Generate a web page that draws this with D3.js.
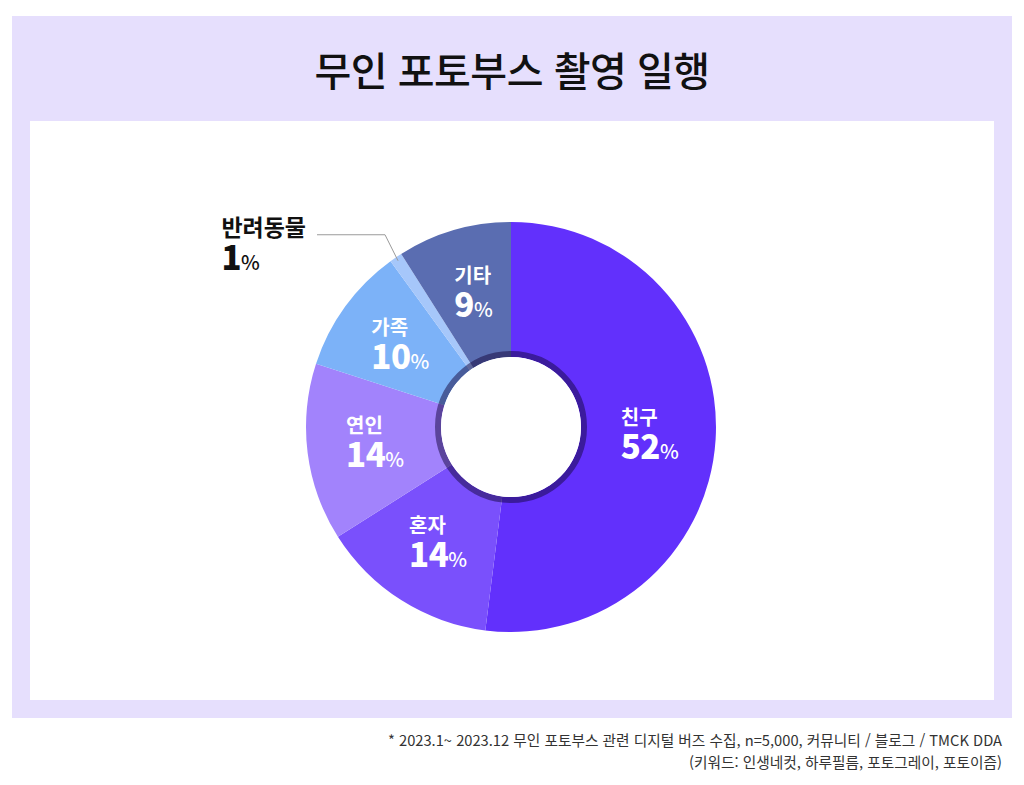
<!DOCTYPE html>
<html lang="ko">
<head>
<meta charset="utf-8">
<script src="https://cdn.jsdelivr.net/npm/d3@7"></script>
<style>
  body { margin: 0; background: #fff; }
  text { font-family: "Noto Sans CJK KR", "Noto Sans", sans-serif; }
</style>
</head>
<body>
<svg id="chart"></svg>
<script>
// data
const categories = ["친구", "혼자", "연인", "가족", "반려동물", "기타"];
const shares = [52, 14, 14, 10, 1, 9];
const sliceColors = ["#6230fc", "#7a50fc", "#a283fc", "#7cb2f8", "#a6c7fa", "#5a6db1"];
const titleText = "무인 포토부스 촬영 일행";
const noteLines = [
    "* 2023.1~ 2023.12 무인 포토부스 관련 디지털 버즈 수집, n=5,000, 커뮤니티 / 블로그 / TMCK DDA",
    "(키워드: 인생네컷, 하루필름, 포토그레이, 포토이즘)"
];

const width = 1024;
const height = 785;

const svg = d3.select('#chart')
    .attr('width', width)
    .attr('height', height);

// background panels
svg.append('rect')
    .attr('x', 12).attr('y', 16)
    .attr('width', 1000).attr('height', 702)
    .attr('fill', '#e6dffd');

svg.append('rect')
    .attr('x', 30).attr('y', 121)
    .attr('width', 964).attr('height', 579)
    .attr('fill', '#ffffff');

svg.append('text')
    .attr('x', 512)
    .attr('y', 86)
    .attr('text-anchor', 'middle')
    .attr('font-size', 40)
    .attr('font-weight', 500)
    .attr('letter-spacing', -0.5)
    .attr('fill', '#111')
    .text(titleText);

//donut
const cx = 511, cy = 427;
const outerR = 205, innerR = 70;

const data = categories.map((c, i) => ({ name: c, value: shares[i], color: sliceColors[i] }));

const pie = d3.pie()
    .value(d => d.value)
    .sort(null);

const arcs = pie(data);

const arc = d3.arc()
    .innerRadius(innerR)
    .outerRadius(outerR);

const labelArc = d3.arc()
    .innerRadius(138)
    .outerRadius(138);

const g = svg.append('g')
    .attr('transform', `translate(${cx},${cy})`);

g.selectAll('.slice')
    .data(arcs)
    .join('path')
    .attr('class', 'slice')
    .attr('d', arc)
    .attr('fill', d => d.data.color);

// dark ring round the hole
g.append('circle')
    .attr('r', innerR + 3)
    .attr('fill', 'none')
    .attr('stroke', 'rgb(20,5,60)')
    .attr('stroke-opacity', 0.5)
    .attr('stroke-width', 6);

g.append('circle')
    .attr('r', innerR)
    .attr('fill', '#fff');

// two-line label: name on top, big number + small % below (one text element)
function addLabel(parent, d, color, nameSize) {
    const t = parent.append('text')
        .attr('fill', color);
    t.append('tspan')
        .attr('x', 0)
        .attr('font-size', nameSize)
        .attr('font-weight', 700)
        .text(d.data.name);
    const num = t.append('tspan')
        .attr('x', 0)
        .attr('dy', 34)
        .attr('font-size', 33)
        .attr('font-weight', 900)
        .attr('letter-spacing', -0.5)
        .text(d.data.value);
    const sign = t.append('tspan')
        .attr('font-size', 20)
        .attr('font-weight', 500)
        .text('%');
    const pctWidth = num.node().getComputedTextLength() + sign.node().getComputedTextLength();
    return { text: t, pctWidth: pctWidth };
}

// labels inside slices
arcs.filter(d => d.data.value >= 5).forEach(d => {
    const [x, y] = labelArc.centroid(d);
    const lab = addLabel(g.append('g'), d, '#fff', 20);
    lab.text.attr('transform', `translate(${x - lab.pctWidth / 2 + 1},${y - 11})`);
});

// small slice gets an outside label with a leader line
arcs.filter(d => d.data.value < 5).forEach(d => {
    const a = (d.startAngle + d.endAngle) / 2;
    const r = outerR - 4;
    const p = [r * Math.sin(a), -r * Math.cos(a)];
    const elbow = [p[0] - 13, p[1] - 26];
    const end = [elbow[0] - 68, elbow[1]];
    g.append('path')
        .attr('d', d3.line()([p, elbow, end]))
        .attr('fill', 'none')
        .attr('stroke', '#9a9a9a')
        .attr('stroke-width', 1);

    const lab = addLabel(g.append('g'), d, '#111', 23);
    const nameWidth = lab.text.select('tspan').node().getComputedTextLength();
    lab.text.attr('transform', `translate(${end[0] - 11 - nameWidth},${end[1] + 1})`);
});

// footnote
svg.selectAll('.note')
    .data(noteLines)
    .join('text')
    .attr('class', 'note')
    .attr('x', 1002)
    .attr('y', (d, i) => 746 + i * 22)
    .attr('text-anchor', 'end')
    .attr('font-size', 14.7)
    .attr('fill', '#333')
    .text(d => d);
</script>
</body>
</html>
